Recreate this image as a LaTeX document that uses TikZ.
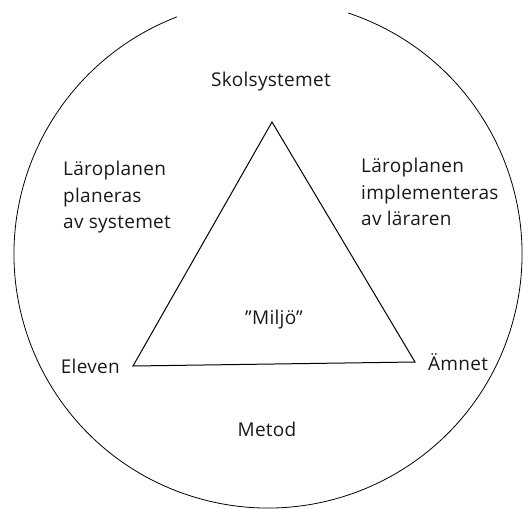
\documentclass[tikz,border=0pt]{standalone}
\usepackage{fontspec}
\setmainfont{Open Sans}[LetterSpace = 1.5]
\usetikzlibrary{positioning}

\begin{document}
\begin{tikzpicture}[x = 1pt, y = -1pt,
  word/.style = {font = \fontsize{19}{26.5}\selectfont, text = black!90, inner sep = 0pt},
  block/.style = {word, align = left, anchor = north west}]

\useasboundingbox (0, 0) rectangle (523, 509);

% Outer circle, open at the top
\draw[line width = 0.8pt] (268, 254) ++(-71.6:254) arc[start angle = -71.6, end angle = 249, radius = 254];

% Triangle
\coordinate (top) at (272, 122);
\coordinate (left) at (133, 366);
\coordinate (right) at (415, 362);

\draw[line width = 1pt] (top) -- (left) -- (right) -- cycle;

% Corners and sides
\node[word] (skol) at (271, 82) {Skolsystemet};
\node[word, left = 13pt of left] (elev) {Eleven};
\node[word, right = 13pt of right] (amne) {Ämnet};
\node[word] (milj) at (274, 320) {”Miljö”};
\node[word] (meto) at (267, 429) {Metod};

\node[block] (plan) at (63, 161) {Läroplanen\\planeras\\av systemet};
\node[block] (impl) at (361, 158) {Läroplanen\\implementeras\\av läraren};

\end{tikzpicture}
\end{document}
